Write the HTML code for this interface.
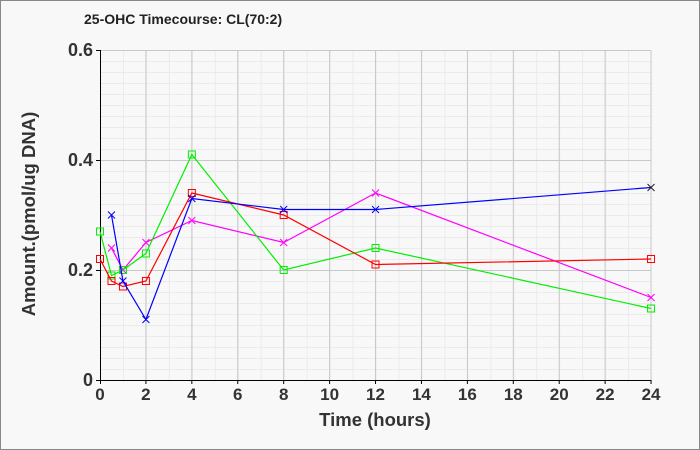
<!DOCTYPE html>
<html><head><style>body{margin:0;background:#fff}svg{display:block}</style></head><body>
<svg width="700" height="450" xmlns="http://www.w3.org/2000/svg" font-family="Liberation Sans, sans-serif">
<defs>
<pattern id="mv" x="100" y="0" width="22.96" height="450" patternUnits="userSpaceOnUse"><line x1="0.5" y1="0" x2="0.5" y2="450" stroke="#ebebeb"/></pattern>
<pattern id="mh" x="0" y="50" width="700" height="11" patternUnits="userSpaceOnUse"><line x1="0" y1="0.5" x2="700" y2="0.5" stroke="#ebebeb"/></pattern>
<marker id="sr" markerUnits="userSpaceOnUse" markerWidth="10" markerHeight="10" refX="5" refY="5" overflow="visible"><rect x="1.5" y="1.5" width="7" height="7" fill="none" stroke="#ff0000"/></marker>
<marker id="sg" markerUnits="userSpaceOnUse" markerWidth="10" markerHeight="10" refX="5" refY="5" overflow="visible"><rect x="1.5" y="1.5" width="7" height="7" fill="none" stroke="#00ee00"/></marker>
<marker id="xm" markerUnits="userSpaceOnUse" markerWidth="10" markerHeight="10" refX="5" refY="5" overflow="visible"><path d="M1.5 1.5L8.5 8.5M1.5 8.5L8.5 1.5" stroke="#ff00ff"/></marker>
<marker id="xb" markerUnits="userSpaceOnUse" markerWidth="10" markerHeight="10" refX="5" refY="5" overflow="visible"><path d="M1.5 1.5L8.5 8.5M1.5 8.5L8.5 1.5" stroke="#0000ff"/></marker>
<marker id="xk" markerUnits="userSpaceOnUse" markerWidth="10" markerHeight="10" refX="5" refY="5" overflow="visible"><path d="M1.5 1.5L8.5 8.5M1.5 8.5L8.5 1.5" stroke="#222"/></marker>
</defs>
<rect x="0.5" y="0.5" width="699" height="449" fill="#f8f8f8" stroke="#888"/>
<rect x="100" y="50" width="551" height="330" fill="url(#mv)"/>
<rect x="100" y="50" width="551" height="330" fill="url(#mh)"/>
<g stroke="#c8c8c8">
<line x1="145.92" y1="50" x2="145.92" y2="380"/><line x1="191.84" y1="50" x2="191.84" y2="380"/><line x1="237.76" y1="50" x2="237.76" y2="380"/><line x1="283.68" y1="50" x2="283.68" y2="380"/><line x1="329.6" y1="50" x2="329.6" y2="380"/><line x1="375.52" y1="50" x2="375.52" y2="380"/><line x1="421.44" y1="50" x2="421.44" y2="380"/><line x1="467.36" y1="50" x2="467.36" y2="380"/><line x1="513.28" y1="50" x2="513.28" y2="380"/><line x1="559.2" y1="50" x2="559.2" y2="380"/><line x1="605.12" y1="50" x2="605.12" y2="380"/><line x1="651.04" y1="50" x2="651.04" y2="380"/>
<line x1="100" y1="50.5" x2="651" y2="50.5"/><line x1="100" y1="160.5" x2="651" y2="160.5"/><line x1="100" y1="270.5" x2="651" y2="270.5"/>
</g>
<g stroke="#000">
<line x1="100.5" y1="50" x2="100.5" y2="380"/><line x1="100" y1="380.5" x2="651" y2="380.5"/>
<line x1="96" y1="50.5" x2="100" y2="50.5"/><line x1="96" y1="160.5" x2="100" y2="160.5"/><line x1="96" y1="270.5" x2="100" y2="270.5"/><line x1="96" y1="380.5" x2="100" y2="380.5"/>
<line x1="100.5" y1="380" x2="100.5" y2="384"/><line x1="145.92" y1="380" x2="145.92" y2="384"/><line x1="191.84" y1="380" x2="191.84" y2="384"/><line x1="237.76" y1="380" x2="237.76" y2="384"/><line x1="283.68" y1="380" x2="283.68" y2="384"/><line x1="329.6" y1="380" x2="329.6" y2="384"/><line x1="375.52" y1="380" x2="375.52" y2="384"/><line x1="421.44" y1="380" x2="421.44" y2="384"/><line x1="467.36" y1="380" x2="467.36" y2="384"/><line x1="513.28" y1="380" x2="513.28" y2="384"/><line x1="559.2" y1="380" x2="559.2" y2="384"/><line x1="605.12" y1="380" x2="605.12" y2="384"/><line x1="651.04" y1="380" x2="651.04" y2="384"/>
</g>
<g font-size="17" font-weight="bold" fill="#333" text-anchor="middle">
<text x="100" y="400">0</text><text x="145.92" y="400">2</text><text x="191.84" y="400">4</text><text x="237.76" y="400">6</text><text x="283.68" y="400">8</text><text x="329.6" y="400">10</text><text x="375.52" y="400">12</text><text x="421.44" y="400">14</text><text x="467.36" y="400">16</text><text x="513.28" y="400">18</text><text x="559.2" y="400">20</text><text x="605.12" y="400">22</text><text x="651.04" y="400">24</text>
</g>
<g font-size="18" font-weight="bold" fill="#333" text-anchor="end">
<text x="93" y="56">0.6</text><text x="93" y="166">0.4</text><text x="93" y="276">0.2</text><text x="93" y="386">0</text>
</g>
<text x="375" y="426" font-size="18.5" font-weight="bold" fill="#333" text-anchor="middle">Time (hours)</text>
<text transform="translate(35,214) rotate(-90)" font-size="18.5" font-weight="bold" fill="#333" text-anchor="middle">Amount.(pmol/ug DNA)</text>
<text x="84" y="24" font-size="14" font-weight="bold" fill="#222">25-OHC Timecourse: CL(70:2)</text>
<g fill="none" stroke-width="1.2">
<polyline stroke="#ff00ff" marker-start="url(#xm)" marker-mid="url(#xm)" marker-end="url(#xm)" points="111.48,248 122.96,270 145.92,242.5 191.84,220.5 283.68,242.5 375.52,193 651.04,297.5"/>
<polyline stroke="#00ee00" marker-start="url(#sg)" marker-mid="url(#sg)" marker-end="url(#sg)" points="100,231.5 111.48,275.5 122.96,270 145.92,253.5 191.84,154.5 283.68,270 375.52,248 651.04,308.5"/>
<polyline stroke="#ff0000" marker-start="url(#sr)" marker-mid="url(#sr)" marker-end="url(#sr)" points="100,259 111.48,281 122.96,286.5 145.92,281 191.84,193 283.68,215 375.52,264.5 651.04,259"/>
<polyline stroke="#0000ff" marker-start="url(#xb)" marker-mid="url(#xb)" marker-end="url(#xk)" points="111.48,215 122.96,281 145.92,319.5 191.84,198.5 283.68,209.5 375.52,209.5 651.04,187.5"/>
</g>
</svg>
</body></html>
